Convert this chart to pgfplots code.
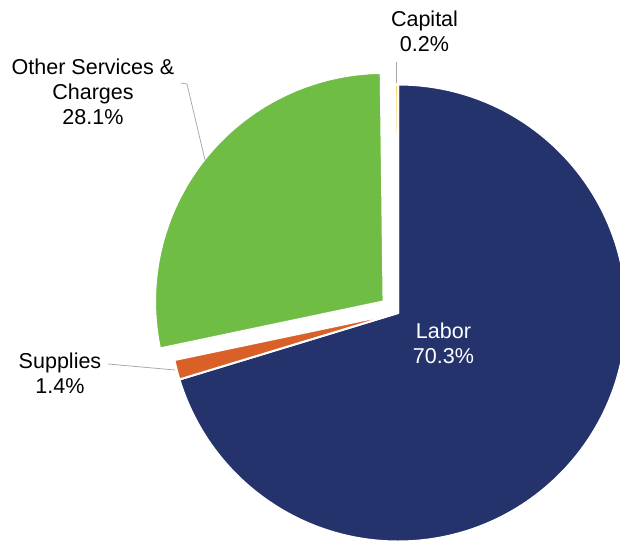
\documentclass[border=0pt]{standalone}
\usepackage{pgfplots}
\usepackage{fontspec}
\setmainfont{Liberation Sans}
\pgfplotsset{compat=1.18}
\definecolor{labor}{RGB}{37,51,108}
\definecolor{supplies}{RGB}{217,96,39}
\definecolor{otherserv}{RGB}{111,189,69}
\definecolor{capital}{RGB}{255,204,80}
\definecolor{leader}{RGB}{166,166,166}

% pie centre (axis units = bp) and radius
\def\cx{398}
\def\cy{228}
\def\rad{228.5}
% #1 cumulative start (%), #2 share (%), #3 colour, #4 explode distance
\newcommand\slice[4]{%
  \fill[#3, draw=white, line width=2bp]
    (axis cs:{\cx+#4*cos(90-3.6*(#1+#2/2))},{\cy+#4*sin(90-3.6*(#1+#2/2))})
    -- (axis cs:{\cx+#4*cos(90-3.6*(#1+#2/2))+\rad*cos(90-3.6*#1)},{\cy+#4*sin(90-3.6*(#1+#2/2))+\rad*sin(90-3.6*#1)})
    arc[start angle={90-3.6*#1}, end angle={90-3.6*(#1+#2)}, radius=\rad bp]
    -- cycle;}

\begin{document}
\begin{tikzpicture}
\begin{axis}[
    scale only axis,
    width=620bp, height=541bp,
    xmin=0, xmax=620, ymin=0, ymax=541,
    hide axis,
    clip=true,
]
% shares: Labor 70.3, Supplies 1.4, Other Services & Charges 28.1, Capital 0.2
\slice{0}{70.3}{labor}{0}
\slice{70.3}{1.4}{supplies}{0}
\slice{71.7}{28.1}{otherserv}{18.5}
\slice{99.8}{0.2}{capital}{0}

% leader lines
\draw[leader, line width=0.75bp] (axis cs:396,479) -- (axis cs:396,458);
\draw[leader, line width=0.75bp] (axis cs:181,458) -- (axis cs:187,457) -- (axis cs:205,381);
\draw[leader, line width=0.75bp] (axis cs:108,177) -- (axis cs:175,171);

% labels
\begin{scope}[every node/.style={font=\fontsize{21.6}{24.8}\selectfont, align=center}]
\node at (axis cs:424.5,510) {Capital\\0.2\%};
\node at (axis cs:93,449) {Other Services \&\\Charges\\28.1\%};
\node at (axis cs:60,168) {Supplies\\1.4\%};
\node[text=white] at (axis cs:443.5,197.5) {Labor\\70.3\%};
\end{scope}
\end{axis}
\pgfresetboundingbox
\path[use as bounding box] (current axis.south west) rectangle (current axis.north east);
\end{tikzpicture}
\end{document}
